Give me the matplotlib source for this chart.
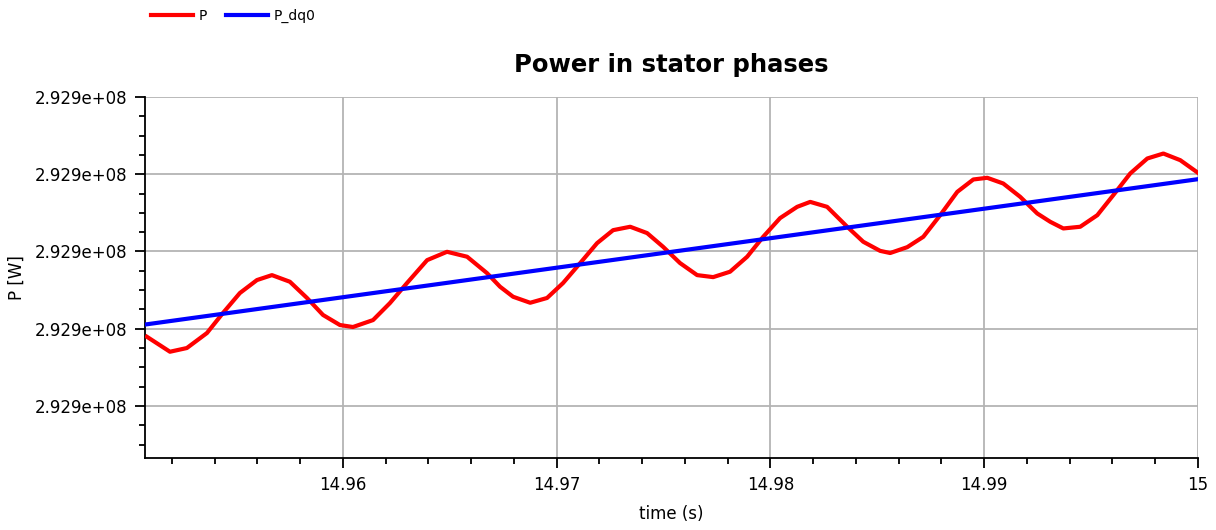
import numpy as np
import matplotlib.pyplot as plt
from matplotlib.ticker import MultipleLocator, FuncFormatter

plt.rcParams['font.family'] = ['DejaVu Sans']

# stator power P (W) sampled over the last part of the run
t_P = [14.95083, 14.95191, 14.95270, 14.95364, 14.95439, 14.95518, 14.95598, 14.95668,
       14.95752, 14.95832, 14.95907, 14.95986, 14.96047, 14.96141, 14.96220, 14.96300,
       14.96394, 14.96487, 14.96581, 14.96674, 14.96735, 14.96796, 14.96876, 14.96955,
       14.97030, 14.97110, 14.97189, 14.97264, 14.97344, 14.97423, 14.97498, 14.97577,
       14.97657, 14.97732, 14.97811, 14.97891, 14.97966, 14.98045, 14.98125, 14.98186,
       14.98265, 14.98359, 14.98434, 14.98513, 14.98560, 14.98640, 14.98715, 14.98794,
       14.98874, 14.98949, 14.99014, 14.99089, 14.99168, 14.99248, 14.99309, 14.99370,
       14.99449, 14.99529, 14.99604, 14.99683, 14.99763, 14.99838, 14.99917, 15.00000]
P = [292905448, 292905351, 292905375, 292905472, 292905602, 292905731, 292905815, 292905847,
     292905804, 292905699, 292905589, 292905524, 292905511, 292905556, 292905666, 292905796,
     292905944, 292905998, 292905966, 292905860, 292905772, 292905707, 292905668, 292905699,
     292905796, 292905925, 292906054, 292906138, 292906160, 292906119, 292906030, 292905925,
     292905847, 292905834, 292905869, 292905966, 292906095, 292906216, 292906289, 292906321,
     292906289, 292906160, 292906063, 292906004, 292905990, 292906028, 292906095, 292906235,
     292906386, 292906466, 292906477, 292906440, 292906354, 292906246, 292906192, 292906149,
     292906160, 292906235, 292906365, 292906505, 292906602, 292906634, 292906591, 292906509]

# dq0 power (W)
t_Pdq0 = [14.95074, 15.00000]
P_dq0 = [292905527, 292906468]

fig = plt.figure(figsize=(12.16, 5.3), dpi=100)
ax = fig.add_axes([0.1192, 0.1358, 0.866, 0.6812])

ax.plot(t_P, P, color='#ff0000', linewidth=3, label='P', zorder=3)
ax.plot(t_Pdq0, P_dq0, color='#0000ff', linewidth=3, label='P_dq0', zorder=4)

ax.set_xlim(14.95074, 15.0)
ax.set_ylim(292904663, 292907000)

ax.xaxis.set_major_locator(MultipleLocator(0.01))
ax.xaxis.set_minor_locator(MultipleLocator(0.002))
ax.xaxis.set_major_formatter(FuncFormatter(lambda v, p: '%g' % round(v, 4)))
ax.yaxis.set_major_locator(MultipleLocator(500))
ax.yaxis.set_minor_locator(MultipleLocator(125))
ax.yaxis.set_major_formatter(FuncFormatter(lambda v, p: '%.3e' % v))

ax.grid(True, which='major', color='#b4b4b4', linewidth=1.3)
ax.spines['top'].set_visible(False)
ax.spines['right'].set_visible(False)
ax.spines['left'].set_linewidth(1.3)
ax.spines['bottom'].set_linewidth(1.3)
ax.tick_params(which='major', direction='out', length=7, width=1.3, labelsize=12, pad=6)
ax.tick_params(which='minor', direction='out', length=4, width=1.3)

ax.set_title('Power in stator phases', fontsize=17.5, fontweight='bold', pad=18)
ax.set_xlabel('time (s)', fontsize=12, labelpad=8)
ax.set_ylabel('P [W]', fontsize=12, labelpad=6)

fig.legend(loc='upper left', bbox_to_anchor=(0.114, 1.006), ncol=2, frameon=False,
           fontsize=10, handlelength=3.0, handletextpad=0.4, columnspacing=1.4)

plt.savefig('out.png', dpi=100)
